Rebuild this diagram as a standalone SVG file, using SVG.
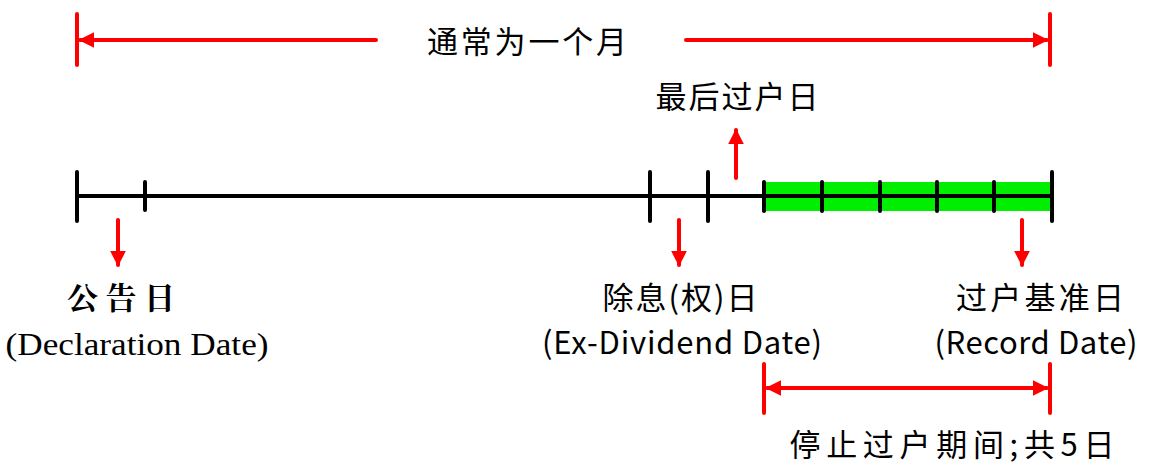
<svg xmlns="http://www.w3.org/2000/svg" width="1150" height="465" viewBox="0 0 1150 465">
<style>
.k{stroke:#000;stroke-width:4;stroke-linecap:round;fill:none}
.r{stroke:#f00;stroke-width:4;stroke-linecap:round;fill:none}
.t{font-family:"Noto Sans CJK SC","Noto Sans",sans-serif;font-size:31px;fill:#000;text-anchor:middle}
.s{font-family:"Liberation Serif","Noto Serif CJK SC",serif;font-size:31px;fill:#000;text-anchor:middle}
</style>
<defs>
<marker id="a" viewBox="0 0 10 10" refX="9" refY="5" markerWidth="4" markerHeight="4" orient="auto-start-reverse"><path d="M0,0L10,5L0,10z" fill="#f00"/></marker>
</defs>
<g id="timeline">
<rect x="764" y="182" width="288" height="29" fill="#00ee00"/>
<path class="k" d="M77,196H1052M77,172V221M145,182V210M650,172V221M708,172V221M764,182V211M822,182V211M880,182V211M937,182V211M994,182V211M1052,172V221"/>
</g>
<g id="connectors">
<path class="r" d="M77,14V65M1050,14V65M764,364V413M1050,364V413"/>
<path class="r" d="M376,40H80" marker-end="url(#a)"/>
<path class="r" d="M686,40H1047" marker-end="url(#a)"/>
<path class="r" d="M907,388H767" marker-end="url(#a)"/>
<path class="r" d="M907,388H1047" marker-end="url(#a)"/>
<path class="r" d="M736,178V130" marker-end="url(#a)"/>
<path class="r" d="M118,220V265" marker-end="url(#a)"/>
<path class="r" d="M679,220V265" marker-end="url(#a)"/>
<path class="r" d="M1022,220V265" marker-end="url(#a)"/>
</g>
<g id="month"><text class="t" x="527" y="53" textLength="200">通常为一个月</text></g>
<g id="last"><text class="t" x="737" y="108" textLength="163">最后过户日</text></g>
<g id="decl"><text class="s" x="121" y="309" font-weight="bold" textLength="108">公告日</text><text class="s" x="137" y="355" textLength="263" lengthAdjust="spacingAndGlyphs">(Declaration Date)</text></g>
<g id="exdiv"><text class="t" x="680" y="309" textLength="155">除息(权)日</text><text class="t" x="682" y="354" textLength="280">(Ex-Dividend Date)</text></g>
<g id="record"><text class="t" x="1040" y="309" textLength="168">过户基准日</text><text class="t" x="1036" y="354" textLength="203">(Record Date)</text></g>
<g id="period"><text class="t" x="952" y="456" textLength="325">停止过户期间;共5日</text></g>
</svg>
